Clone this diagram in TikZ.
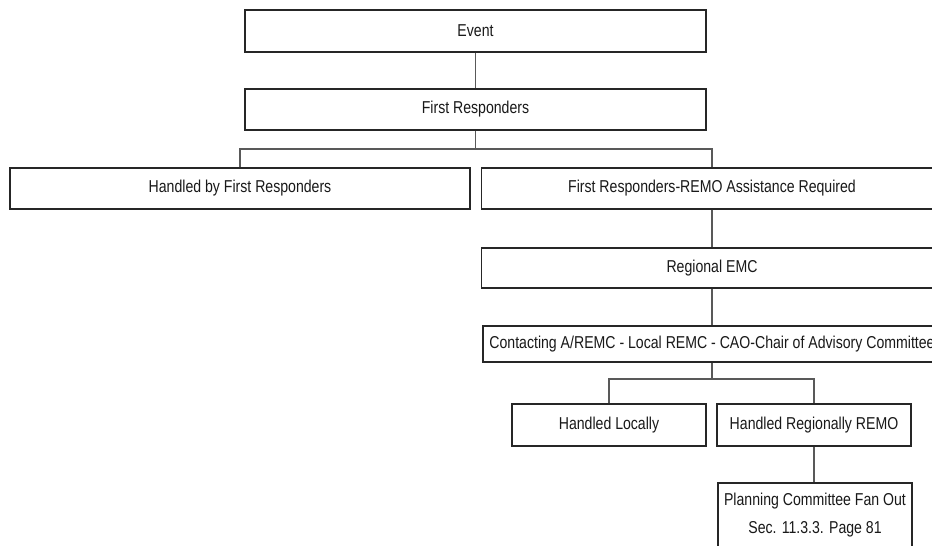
\documentclass[tikz,border=0pt]{standalone}
\usepackage{fontspec}
\setmainfont[FakeStretch=0.82]{Liberation Sans}
\begin{document}
\begin{tikzpicture}[x=0.75pt,y=-0.75pt,
  box/.style={draw=black!85,line width=0.9pt,fill=white,rectangle,inner sep=0pt,
    font=\fontsize{12.9}{21}\selectfont,align=center,text=black!90},
  conn/.style={draw=black!65,line width=0.8pt}]
\useasboundingbox (0,0) rectangle (932,546);
\clip (0,0) rectangle (932,546);
\fill[white] (0,0) rectangle (932,546);
\node[box,minimum width=461*0.75pt,minimum height=42*0.75pt] (ev) at (475.5,31) {Event};
\node[box,minimum width=461*0.75pt,minimum height=41*0.75pt] (fr) at (475.5,109.5) {First Responders};
\node[box,minimum width=460*0.75pt,minimum height=41*0.75pt] (hfr) at (240,188.5) {Handled by First Responders};
\node[box,minimum width=461*0.75pt,minimum height=41*0.75pt] (remo) at (712,188.5) {First Responders-REMO Assistance Required};
\node[box,minimum width=461*0.75pt,minimum height=40*0.75pt] (emc) at (712,268) {Regional EMC};
\node[box,minimum width=458*0.75pt,minimum height=36*0.75pt] (cont) at (712,344) {Contacting A/REMC - Local REMC - CAO-Chair of Advisory Committee};
\node[box,minimum width=194*0.75pt,minimum height=42*0.75pt] (hl) at (609,425) {Handled Locally};
\node[box,minimum width=194*0.75pt,minimum height=42*0.75pt] (hr) at (814,425) {Handled Regionally REMO};
\node[box,minimum width=194*0.75pt,minimum height=64*0.75pt] (pc) at (815,515) {Planning Committee Fan Out\\Sec. 11.3.3. Page 81};
\coordinate (j1) at (475.5,149);
\coordinate (j2) at (712,379);
\draw[conn] (ev.south) -- (fr.north);
\draw[conn] (fr.south) -- (j1);
\draw[conn] (hfr.north) |- (j1) -| (remo.north);
\draw[conn] (remo.south) -- (emc.north);
\draw[conn] (emc.south) -- (cont.north);
\draw[conn] (cont.south) -- (j2);
\draw[conn] (hl.north) |- (j2) -| (hr.north);
\draw[conn] (hr.south) -- (hr.south |- pc.north);
\end{tikzpicture}
\end{document}
